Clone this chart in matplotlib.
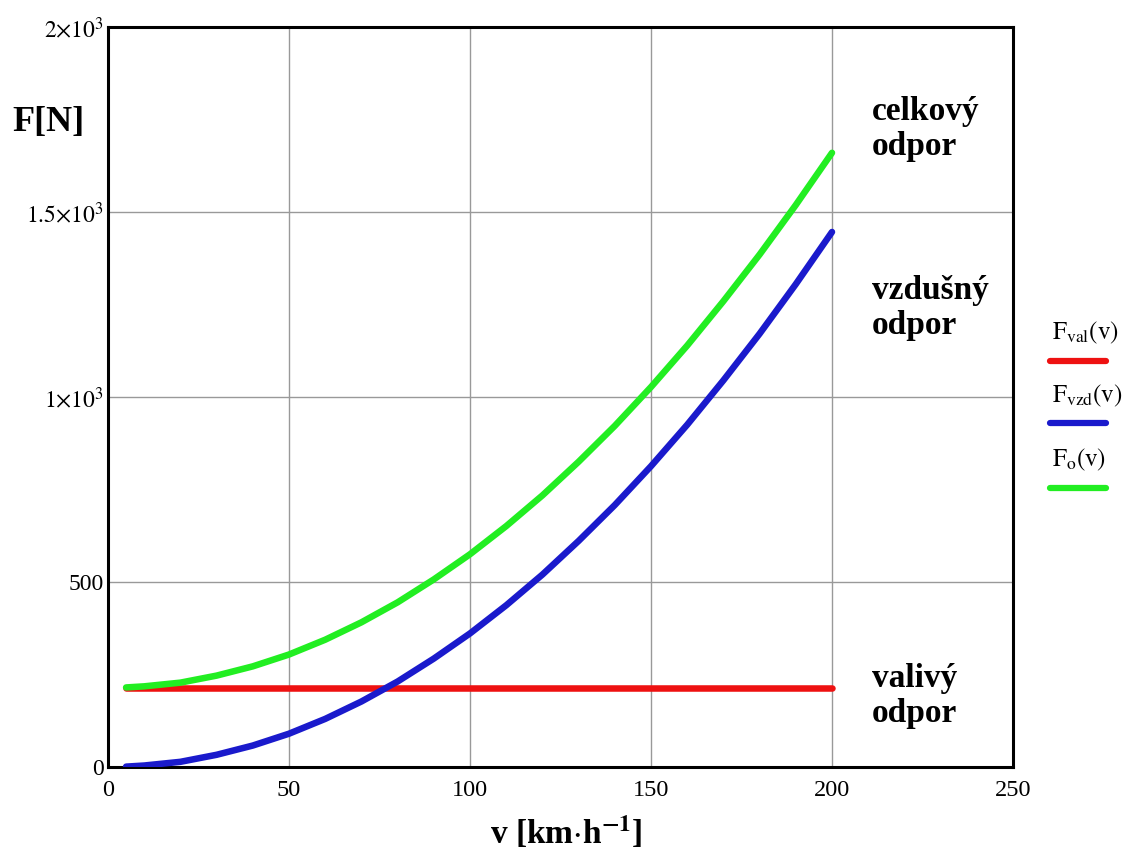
import matplotlib
matplotlib.use("Agg")
import matplotlib.pyplot as plt
from matplotlib.lines import Line2D

plt.rcParams['font.family'] = ['Liberation Serif', 'DejaVu Serif']
plt.rcParams['mathtext.fontset'] = 'stix'

# speed [km/h]
v = [5, 10, 20, 30, 40, 50, 60, 70, 80, 90, 100, 110, 120, 130, 140, 150,
     160, 170, 180, 190, 200]
# rolling resistance [N]
F_val = [214] * len(v)
# air resistance [N]
F_vzd = [1, 4, 14, 33, 58, 90, 130, 177, 231, 293, 361, 437, 520, 611, 708,
         813, 925, 1045, 1171, 1305, 1446]
# total resistance [N]
F_o = [215, 218, 228, 247, 272, 304, 344, 391, 445, 507, 575, 651, 734, 825,
       922, 1027, 1139, 1259, 1385, 1519, 1660]

x_ticks = [0, 50, 100, 150, 200, 250]
x_ticklabels = ['0', '50', '100', '150', '200', '250']
y_ticks = [0, 500, 1000, 1500, 2000]
y_ticklabels = ['0', '500', r'$1{\times}10^{3}$', r'$1.5{\times}10^{3}$', r'$2{\times}10^{3}$']

c_red = '#ee1111'
c_blue = '#1a1acc'
c_green = '#22ee22'

fig = plt.figure(figsize=(11.42, 8.5), dpi=100)
ax = fig.add_axes([108/1142, 1 - 767/850, (1013-108)/1142, (767-27)/850])

ax.plot(v, F_val, color=c_red, lw=4.7, solid_capstyle='round', zorder=3)
ax.plot(v, F_vzd, color=c_blue, lw=4.7, solid_capstyle='round', zorder=4)
ax.plot(v, F_o, color=c_green, lw=4.7, solid_capstyle='round', zorder=5)

ax.set_xlim(0, 250)
ax.set_ylim(0, 2000)
ax.set_xticks(x_ticks)
ax.set_xticklabels(x_ticklabels, fontsize=17.5)
ax.set_yticks(y_ticks)
ax.set_yticklabels(y_ticklabels, fontsize=17)
ax.tick_params(axis='x', length=0, pad=9)
ax.tick_params(axis='y', length=0, pad=3)
ax.grid(True, color='#999999', lw=1)
for s in ax.spines.values():
    s.set_linewidth(2.2)
    s.set_color('black')

fig.text(566/1142, 1 - 833/850, r'v [km$\cdot$h$^{\mathbf{-1}}$]', fontsize=24,
         fontweight='bold', ha='center', va='center')
fig.text(12/1142, 1 - 123/850, 'F[N]', fontsize=26, fontweight='bold', va='center', ha='left')

ann_kw = dict(fontsize=24, fontweight='bold', ha='left', va='center', linespacing=1.15)
ax.text(211, 1725, 'celkový\nodpor', **ann_kw)
ax.text(211, 1240, 'vzdušný\nodpor', **ann_kw)
ax.text(211, 192, 'valivý\nodpor', **ann_kw)

# legend outside on the right
leg_items = [(r'$\mathrm{F}_{\mathrm{val}}(\mathrm{v})$', c_red, 333, 361),
             (r'$\mathrm{F}_{\mathrm{vzd}}(\mathrm{v})$', c_blue, 396, 423),
             (r'$\mathrm{F}_{\mathrm{o}}(\mathrm{v})$', c_green, 460, 488)]
for label, col, ty, ly in leg_items:
    fig.text(1052/1142, 1 - ty/850, label, fontsize=18, ha='left', va='center')
    fig.add_artist(Line2D([1050/1142, 1106/1142], [1 - ly/850, 1 - ly/850],
                          color=col, lw=4.5, solid_capstyle='round'))

fig.savefig('out.png', dpi=100)
